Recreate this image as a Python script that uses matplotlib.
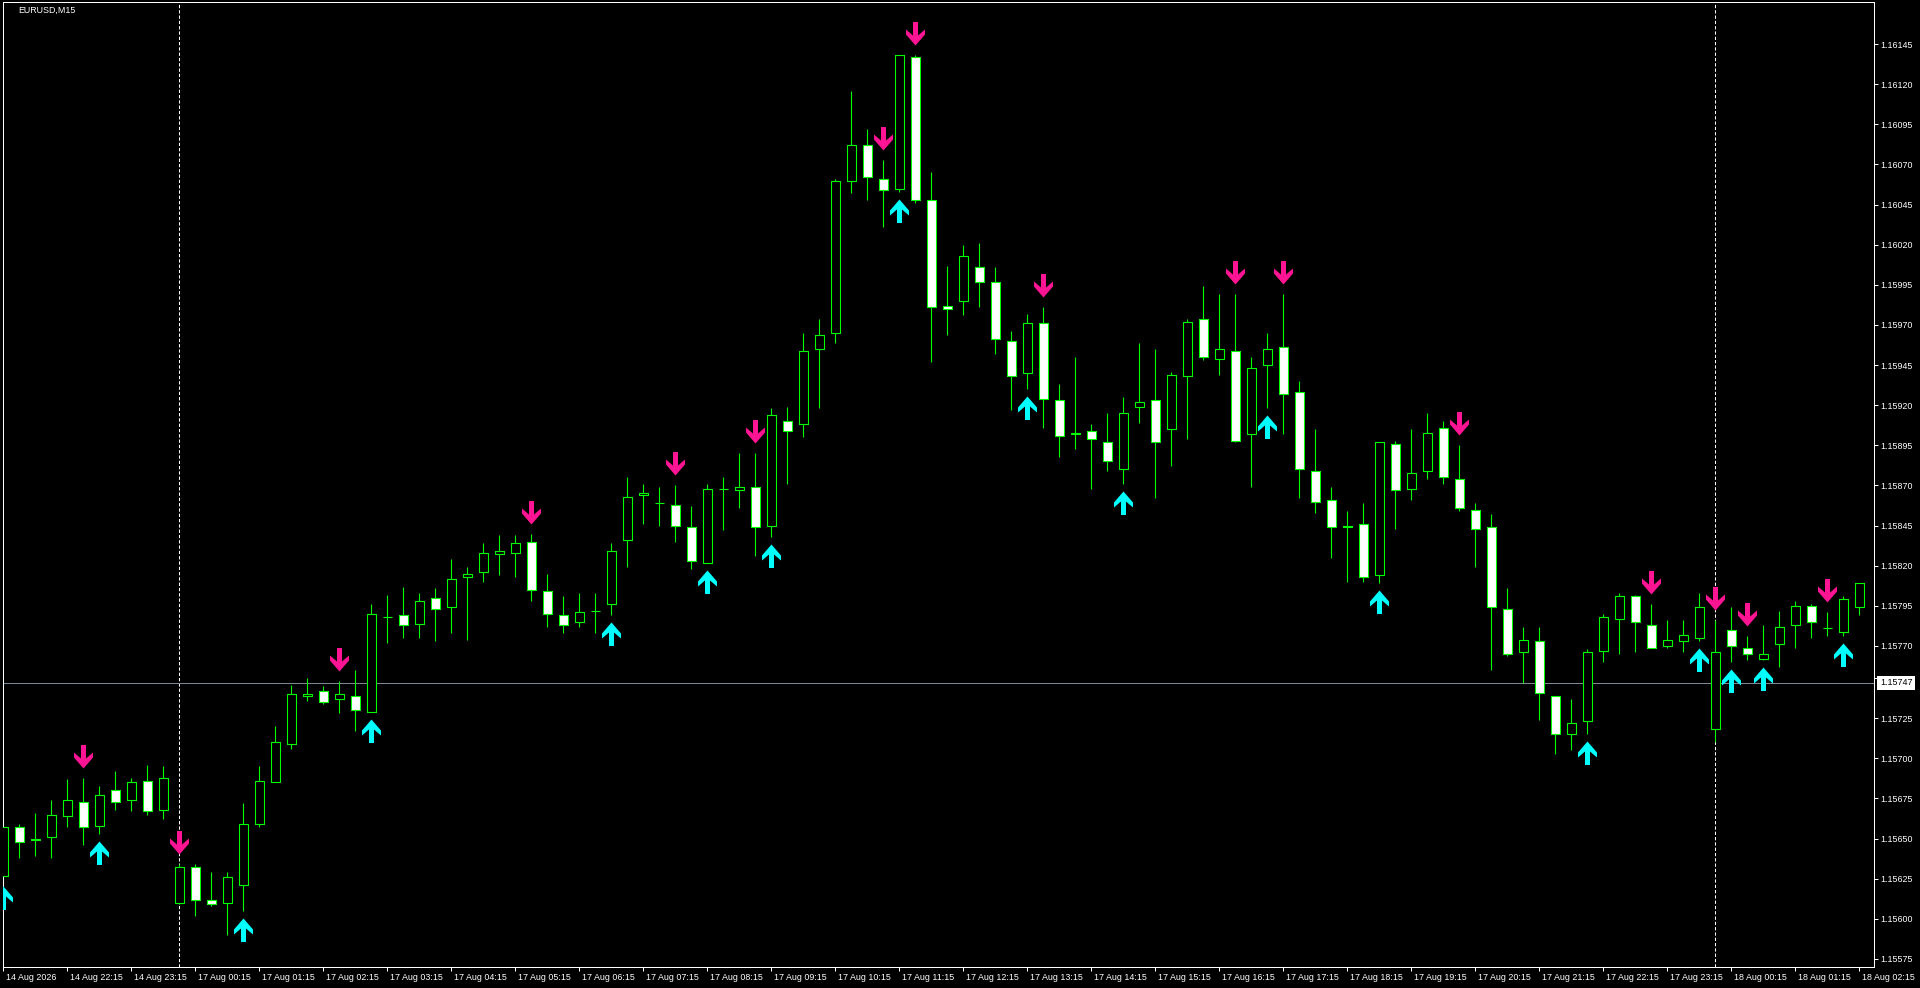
import numpy as np
import pandas as pd
import matplotlib
matplotlib.use("Agg")
import matplotlib.pyplot as plt
from matplotlib.patches import Rectangle
from matplotlib.path import Path

plt.rcParams["font.family"] = ["Liberation Sans", "DejaVu Sans"]

symbol = "EURUSD,M15"

# bar times: friday evening, then monday/tuesday
times = list(pd.date_range("2026-08-14 21:15", "2026-08-14 23:45", freq="15min")) + \
    list(pd.date_range("2026-08-17 00:00", "2026-08-18 02:15", freq="15min"))

opens = [
    1.15627, 1.15657, 1.15649, 1.15651, 1.15664, 1.15673, 1.15658, 1.15680, 1.15674, 1.15686,
    1.15668, 1.15610, 1.15632, 1.15612, 1.15610, 1.15621, 1.15659, 1.15685, 1.15709, 1.15739,
    1.15742, 1.15737, 1.15739, 1.15729, 1.15788, 1.15789, 1.15784, 1.15800, 1.15794, 1.15813,
    1.15816, 1.15827, 1.15828, 1.15835, 1.15804, 1.15789, 1.15785, 1.15792, 1.15796, 1.15836,
    1.15864, 1.15859, 1.15858, 1.15844, 1.15822, 1.15868, 1.15867, 1.15869, 1.15845, 1.15910,
    1.15908, 1.15955, 1.15965, 1.16060, 1.16082, 1.16061, 1.16055, 1.16137, 1.16048, 1.15982,
    1.15985, 1.16006, 1.15997, 1.15960, 1.15940, 1.15971, 1.15923, 1.15902, 1.15904, 1.15897,
    1.15880, 1.15919, 1.15923, 1.15905, 1.15938, 1.15974, 1.15949, 1.15954, 1.15902, 1.15945,
    1.15956, 1.15928, 1.15879, 1.15861, 1.15845, 1.15846, 1.15814, 1.15896, 1.15868, 1.15879,
    1.15906, 1.15874, 1.15855, 1.15844, 1.15793, 1.15766, 1.15773, 1.15739, 1.15715, 1.15723,
    1.15767, 1.15787, 1.15801, 1.15783, 1.15770, 1.15773, 1.15775, 1.15718, 1.15780, 1.15769,
    1.15762, 1.15771, 1.15783, 1.15795, 1.15781, 1.15779, 1.15794,
]
highs = [
    1.15662, 1.15659, 1.15666, 1.15674, 1.15687, 1.15688, 1.15683, 1.15692, 1.15688, 1.15696,
    1.15695, 1.15634, 1.15634, 1.15629, 1.15629, 1.15672, 1.15695, 1.15720, 1.15746, 1.15750,
    1.15745, 1.15748, 1.15755, 1.15796, 1.15802, 1.15807, 1.15803, 1.15806, 1.15824, 1.15819,
    1.15834, 1.15839, 1.15839, 1.15840, 1.15815, 1.15801, 1.15803, 1.15803, 1.15834, 1.15875,
    1.15871, 1.15869, 1.15870, 1.15857, 1.15871, 1.15875, 1.15890, 1.15890, 1.15918, 1.15919,
    1.15965, 1.15974, 1.16061, 1.16116, 1.16092, 1.16073, 1.16138, 1.16138, 1.16065, 1.16007,
    1.16020, 1.16021, 1.16006, 1.15966, 1.15977, 1.15981, 1.15933, 1.15950, 1.15908, 1.15915,
    1.15925, 1.15959, 1.15955, 1.15941, 1.15974, 1.15994, 1.15989, 1.15989, 1.15950, 1.15965,
    1.15989, 1.15935, 1.15905, 1.15869, 1.15854, 1.15859, 1.15897, 1.15898, 1.15905, 1.15915,
    1.15910, 1.15895, 1.15859, 1.15852, 1.15806, 1.15782, 1.15782, 1.15739, 1.15737, 1.15768,
    1.15790, 1.15803, 1.15802, 1.15796, 1.15786, 1.15786, 1.15803, 1.15786, 1.15794, 1.15776,
    1.15783, 1.15792, 1.15798, 1.15796, 1.15791, 1.15801, 1.15809,
]
lows = [
    1.15625, 1.15638, 1.15639, 1.15638, 1.15657, 1.15646, 1.15653, 1.15668, 1.15667, 1.15665,
    1.15662, 1.15609, 1.15602, 1.15608, 1.15590, 1.15605, 1.15657, 1.15685, 1.15706, 1.15736,
    1.15734, 1.15728, 1.15717, 1.15729, 1.15772, 1.15775, 1.15775, 1.15773, 1.15778, 1.15774,
    1.15810, 1.15814, 1.15813, 1.15798, 1.15782, 1.15778, 1.15782, 1.15778, 1.15789, 1.15819,
    1.15846, 1.15845, 1.15835, 1.15818, 1.15822, 1.15842, 1.15856, 1.15826, 1.15838, 1.15871,
    1.15900, 1.15918, 1.15959, 1.16052, 1.16048, 1.16031, 1.16053, 1.16046, 1.15947, 1.15964,
    1.15976, 1.15981, 1.15952, 1.15917, 1.15930, 1.15906, 1.15888, 1.15893, 1.15868, 1.15879,
    1.15871, 1.15909, 1.15862, 1.15882, 1.15899, 1.15948, 1.15939, 1.15897, 1.15869, 1.15918,
    1.15902, 1.15862, 1.15853, 1.15825, 1.15810, 1.15810, 1.15809, 1.15843, 1.15861, 1.15874,
    1.15871, 1.15854, 1.15819, 1.15755, 1.15764, 1.15747, 1.15724, 1.15703, 1.15705, 1.15715,
    1.15760, 1.15765, 1.15766, 1.15769, 1.15769, 1.15766, 1.15773, 1.15710, 1.15760, 1.15761,
    1.15761, 1.15757, 1.15769, 1.15775, 1.15776, 1.15776, 1.15789,
]
closes = [
    1.15657, 1.15648, 1.15650, 1.15665, 1.15674, 1.15657, 1.15677, 1.15673, 1.15685, 1.15667,
    1.15688, 1.15632, 1.15612, 1.15609, 1.15626, 1.15659, 1.15686, 1.15710, 1.15740, 1.15740,
    1.15735, 1.15740, 1.15730, 1.15790, 1.15788, 1.15783, 1.15798, 1.15793, 1.15812, 1.15815,
    1.15828, 1.15829, 1.15834, 1.15805, 1.15790, 1.15783, 1.15791, 1.15792, 1.15829, 1.15863,
    1.15865, 1.15859, 1.15845, 1.15823, 1.15868, 1.15868, 1.15869, 1.15844, 1.15914, 1.15904,
    1.15954, 1.15964, 1.16060, 1.16082, 1.16062, 1.16054, 1.16138, 1.16048, 1.15981, 1.15980,
    1.16013, 1.15997, 1.15961, 1.15938, 1.15971, 1.15924, 1.15901, 1.15903, 1.15899, 1.15885,
    1.15915, 1.15922, 1.15897, 1.15939, 1.15972, 1.15950, 1.15955, 1.15898, 1.15943, 1.15955,
    1.15927, 1.15880, 1.15860, 1.15844, 1.15844, 1.15813, 1.15897, 1.15867, 1.15878, 1.15903,
    1.15875, 1.15856, 1.15843, 1.15794, 1.15765, 1.15774, 1.15741, 1.15715, 1.15722, 1.15766,
    1.15788, 1.15801, 1.15785, 1.15769, 1.15774, 1.15777, 1.15794, 1.15766, 1.15770, 1.15765,
    1.15765, 1.15782, 1.15795, 1.15785, 1.15781, 1.15799, 1.15809,
]

# indicator signals (bar numbers)
down_arrows = [5, 11, 21, 33, 42, 47, 55, 57, 65, 77, 80, 91, 103, 107, 109, 114]
up_arrows = [0, 6, 15, 23, 38, 44, 48, 56, 64, 70, 79, 86, 99, 106, 108, 110, 115]

bid_price = 1.15747
price_ticks = [
    1.16145, 1.16120, 1.16095, 1.16070, 1.16045, 1.16020, 1.15995, 1.15970,
    1.15945, 1.15920, 1.15895, 1.15870, 1.15845, 1.15820, 1.15795, 1.15770,
    1.15750, 1.15725, 1.15700, 1.15675, 1.15650, 1.15625, 1.15600, 1.15575,
]

DPI = 100
PX = 72 / DPI  # one pixel in points
GREEN = "#00FF00"
PINK = "#FF1493"
CYAN = "#00FFFF"
FS = 6.4


def arrow_marker(gap, up):
    # chevron arrow in pixels, tip at the bottom (y measured down from top)
    shape = [(-2.5, 0), (2.5, 0), (2.5, 13.5), (9.5, 7.5), (9.5, 12.5),
             (0, 23.5), (-9.5, 12.5), (-9.5, 7.5), (-2.5, 13.5)]
    if up:
        verts = [(x, -(gap + 23.5 - y)) for x, y in shape]
    else:
        verts = [(x, gap + 23.5 - y) for x, y in shape]
    verts.append(verts[0])
    reach = max(abs(v) for p in verts for v in p)
    return Path(verts, closed=True), 2 * reach * PX


n = len(opens)
x = np.arange(n)

fig = plt.figure(figsize=(19.2, 9.88), dpi=DPI, facecolor="black")
ax = fig.add_axes([2.5 / 1920, 21 / 988, 1871.5 / 1920, 964.5 / 988])
ax.set_facecolor("black")
ax.set_xlim(-0.056, 116.91)
ax.set_ylim(1.155700, 1.161709)

# period separators at day start
for i, t in enumerate(times):
    if t.hour == 0 and t.minute == 0:
        ax.axvline(i, color="white", lw=PX, linestyle=(0, (3.3, 2)), zorder=1)

ax.axhline(bid_price, color="#778899", lw=PX, zorder=1)

ax.vlines(x, lows, highs, color=GREEN, lw=PX * 1.1, zorder=2)
for i in range(n):
    o, c = opens[i], closes[i]
    fc = "black" if c >= o else "white"
    ax.add_patch(Rectangle((i - 0.3, min(o, c)), 0.6, abs(c - o),
                           fc=fc, ec=GREEN, lw=PX * 1.1, zorder=3))

dpath, dsize = arrow_marker(10, up=False)
upath, usize = arrow_marker(7, up=True)
ax.plot(down_arrows, [highs[i] for i in down_arrows], linestyle="none",
        marker=dpath, markersize=dsize, color=PINK, mew=0, zorder=4)
ax.plot(up_arrows, [lows[i] for i in up_arrows], linestyle="none",
        marker=upath, markersize=usize, color=CYAN, mew=0, zorder=4)

for sp in ax.spines.values():
    sp.set_color("white")
    sp.set_linewidth(PX)

ax.yaxis.tick_right()
ax.set_yticks(price_ticks)
ax.set_yticklabels([f"{p:.5f}" for p in price_ticks])
ax.tick_params(axis="y", colors="white", direction="out", length=4 * PX,
               width=PX, labelsize=FS, pad=2)

tick_bars = list(range(0, n, 4))
ax.set_xticks(tick_bars)
ax.tick_params(axis="x", colors="white", direction="out", length=4 * PX,
               width=PX, labelbottom=False)
for k, i in enumerate(tick_bars):
    t = times[i]
    label = t.strftime("%d %b %Y") if k == 0 else t.strftime("%d %b %H:%M")
    ax.annotate(label, xy=(i, 0), xycoords=("data", "axes fraction"),
                xytext=(3, -10), textcoords="offset pixels", ha="left",
                va="center", color="white", fontsize=FS, annotation_clip=False)

ax.annotate(f"{bid_price:.5f}", xy=(1, bid_price), xycoords=("axes fraction", "data"),
            xytext=(6, 0), textcoords="offset pixels", ha="left", va="center",
            color="black", fontsize=FS, annotation_clip=False, zorder=10,
            bbox=dict(boxstyle="square,pad=0.3", fc="white", ec="white", lw=0))

fig.text(18 / 1920, 1 - 10.5 / 988, symbol, color="white", fontsize=FS,
         ha="left", va="center")

fig.savefig("out.png", dpi=DPI, facecolor="black")
